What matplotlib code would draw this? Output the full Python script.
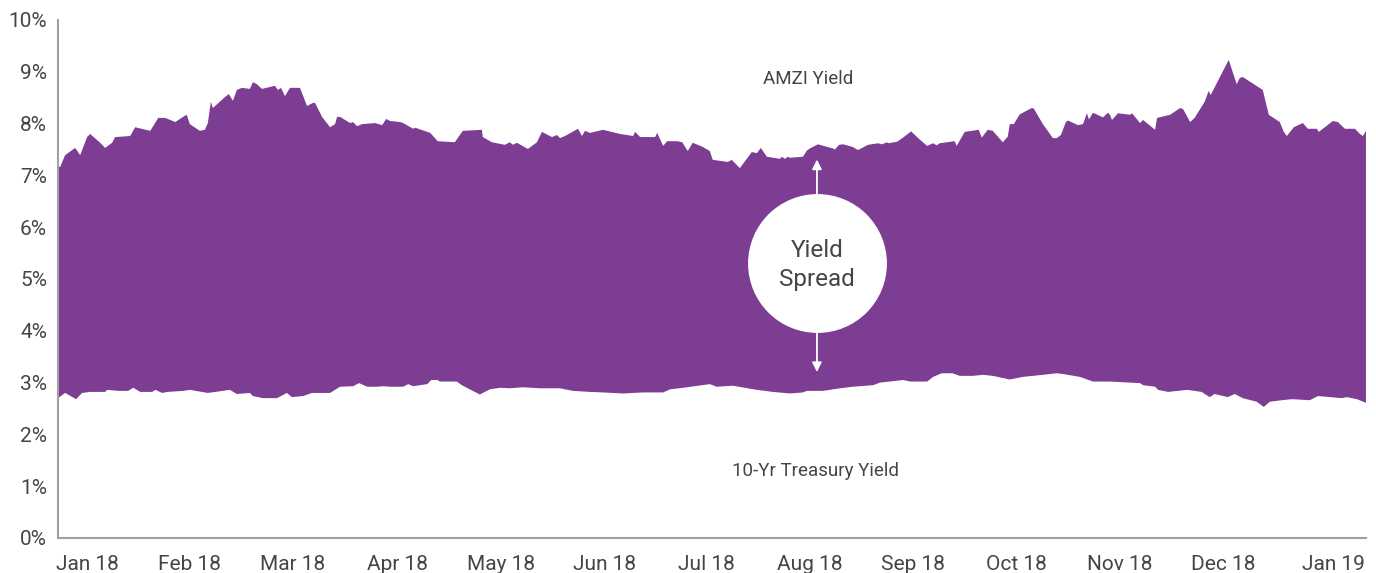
import matplotlib
matplotlib.use("Agg")
import matplotlib.pyplot as plt
import numpy as np

# trading-day index across the year, yields in percent
amzi_day = [0, 0.4, 1.4, 3.4, 4.0, 4.4, 5.8, 6.4, 8.4, 9.4, 10.8, 11.4, 14.4, 15.4, 18.4, 20.0,
            21.4, 23.4, 25.3, 25.7, 26.3, 28.3, 29.3, 29.9, 30.5, 30.9, 33.3, 34.1, 34.9, 35.7,
            36.7, 38.3, 38.9, 39.7, 40.7, 43.3, 43.9, 44.5, 45.3, 46.3, 48.3, 49.7, 50.9, 51.3,
            52.7, 54.3, 55.3, 55.7, 56.3, 58.3, 58.9, 59.7, 60.7, 63.3, 64.7, 65.5, 66.3,
            68.3, 68.9, 70.9, 71.3, 74.3, 75.8, 79.2, 80.8, 84.6, 84.8, 86.6, 89.2, 90.2, 90.8,
            91.6, 93.8, 95.6, 96.6, 98.6, 99.6, 100.2, 101.2, 103.8, 104.6, 105.2, 106.2, 108.8,
            112.2, 114.8, 115.2, 116.2, 119.2, 119.6, 120.8, 121.6, 123.6, 124.6, 125.7, 126.7,
            128.7, 130.1, 130.7, 133.7, 134.5, 136.1, 138.5, 139.5, 140.3, 141.5, 144.1, 144.5,
            145.1, 145.7, 146.1, 148.7, 149.5, 150.1, 151.7, 154.7, 155.1, 155.9, 156.7, 158.6,
            159.7, 161.7, 163.7, 164.5, 165.5, 165.7, 167.5, 168.7, 170.3, 171.7, 173.5, 174.7,
            175.4, 176.0, 179.0, 179.4, 181.0, 183.8, 184.4, 185.6, 186.6, 188.6, 189.6, 190.0,
            190.8, 192.0, 194.4, 194.8, 196.6, 198.6, 199.4, 200.2, 201.2, 201.6, 203.6, 204.6,
            205.4, 205.8, 206.6, 208.6, 209.6, 210.0, 210.4, 211.6, 214.0, 214.4, 216.0, 216.6,
            219.0, 219.4, 222.0, 224.0, 224.6, 226.0, 226.9, 228.9, 229.7, 230.1, 233.7, 235.3,
            235.9, 236.5, 240.5, 241.7, 243.9, 244.7, 245.3, 246.7, 248.5, 249.5, 251.3, 251.7,
            254.5, 255.5, 256.9, 258.9, 259.9, 260.5, 261.1]
amzi_yield = [7.18, 7.16, 7.39, 7.53, 7.45, 7.39, 7.74, 7.80, 7.63, 7.53, 7.63, 7.74, 7.76, 7.93, 7.86, 8.11,
              8.11, 8.03, 8.15, 8.17, 7.99, 7.86, 7.88, 8.01, 8.42, 8.30, 8.51, 8.57, 8.44, 8.65,
              8.69, 8.67, 8.80, 8.76, 8.67, 8.73, 8.65, 8.69, 8.53, 8.69, 8.69, 8.34, 8.40, 8.40,
              8.13, 7.93, 7.99, 8.13, 8.13, 8.01, 8.03, 7.95, 7.99, 8.01, 7.97, 8.09, 8.05,
              8.03, 8.01, 7.90, 7.92, 7.82, 7.66, 7.64, 7.86, 7.88, 7.74, 7.64, 7.59, 7.64, 7.59,
              7.63, 7.51, 7.64, 7.84, 7.74, 7.78, 7.72, 7.76, 7.90, 7.76, 7.86, 7.82, 7.88,
              7.80, 7.76, 7.84, 7.74, 7.74, 7.82, 7.57, 7.66, 7.66, 7.64, 7.47, 7.63,
              7.55, 7.47, 7.30, 7.26, 7.30, 7.14, 7.45, 7.43, 7.53, 7.36, 7.32, 7.36,
              7.32, 7.36, 7.34, 7.36, 7.48, 7.52, 7.60, 7.52, 7.50, 7.59, 7.60, 7.55,
              7.49, 7.59, 7.62, 7.60, 7.64, 7.62, 7.65, 7.73, 7.85, 7.72, 7.57, 7.62,
              7.58, 7.62, 7.66, 7.57, 7.84, 7.88, 7.73, 7.88, 7.86, 7.64, 7.75, 7.99,
              7.99, 8.18, 8.30, 8.29, 7.99, 7.72, 7.72, 7.78, 8.03, 8.06, 7.97, 7.99,
              8.20, 8.08, 8.21, 8.12, 8.21, 8.17, 8.07, 8.20, 8.17, 8.20, 8.01, 8.07,
              7.88, 8.11, 8.17, 8.30, 8.28, 8.03, 8.11, 8.42, 8.63, 8.55, 9.23, 8.76,
              8.88, 8.90, 8.65, 8.17, 8.03, 7.84, 7.76, 7.93, 8.01, 7.90, 7.90, 7.84,
              8.05, 8.03, 7.90, 7.90, 7.80, 7.76, 7.86]

tsy_day = [0, 1.4, 3.6, 4.8, 6.4, 9.4, 9.8, 12.0, 14.0, 15.0, 16.4, 18.8, 19.4, 20.8, 21.8, 25.0,
           26.3, 29.9, 34.3, 35.7, 38.3, 38.9, 40.9, 43.7, 45.7, 46.7, 48.9, 50.7, 54.3, 56.3,
           58.9, 60.1, 61.7, 63.7, 64.9, 66.3, 68.9, 69.9, 70.9, 73.7, 74.5, 75.8, 76.2, 79.6,
           80.6, 84.2, 85.2, 86.2, 88.2, 90.2, 92.8, 96.2, 100.2, 102.8, 106.2, 108.8, 112.8,
           116.8, 120.8, 122.2, 124.8, 130.1, 131.5, 134.7, 139.5, 142.7, 146.1, 148.7, 149.5,
           152.7, 156.1, 158.7, 162.7, 164.1, 168.7, 170.1, 173.5, 174.7, 176.4, 178.6, 180.0,
           182.6, 184.6, 186.6, 190.0, 192.6, 194.6, 196.6, 199.4, 201.0, 204.0, 206.6, 210.0,
           216.0, 216.6, 219.0, 219.6, 221.6, 225.4, 228.3, 229.9, 230.9, 233.5, 234.9, 236.5,
           239.3, 240.7, 241.9, 244.3, 246.3, 249.9, 251.5, 253.9, 256.3, 257.3, 259.3, 261.1]
tsy_yield = [2.70, 2.80, 2.68, 2.80, 2.82, 2.82, 2.86, 2.84, 2.84, 2.90, 2.82, 2.82, 2.86, 2.80, 2.82, 2.84,
             2.86, 2.80, 2.86, 2.78, 2.80, 2.74, 2.70, 2.70, 2.80, 2.72, 2.74, 2.80, 2.80, 2.92,
             2.93, 2.99, 2.92, 2.92, 2.93, 2.92, 2.92, 2.97, 2.93, 2.97, 3.05, 3.05, 3.02, 3.02,
             2.95, 2.77, 2.82, 2.87, 2.90, 2.89, 2.91, 2.89, 2.89, 2.84, 2.82, 2.81, 2.79,
             2.81, 2.81, 2.87, 2.90, 2.97, 2.92, 2.94, 2.86, 2.82, 2.79, 2.81, 2.84,
             2.84, 2.89, 2.92, 2.95, 3.00, 3.05, 3.02, 3.02, 3.11, 3.18, 3.18, 3.13,
             3.13, 3.15, 3.13, 3.06, 3.11, 3.13, 3.15, 3.18, 3.16, 3.11, 3.02, 3.02,
             2.99, 2.95, 2.92, 2.86, 2.82, 2.86, 2.82, 2.72, 2.78, 2.72, 2.78, 2.70,
             2.63, 2.53, 2.63, 2.66, 2.68, 2.66, 2.74, 2.72, 2.70, 2.72, 2.68, 2.61]

month_pos = [5.8, 26.3, 46.9, 67.7, 88.4, 109.0, 129.5, 150.1, 170.7, 191.4, 212.0, 232.5, 254.7]
month_labels = ["Jan 18", "Feb 18", "Mar 18", "Apr 18", "May 18", "Jun 18", "Jul 18",
                "Aug 18", "Sep 18", "Oct 18", "Nov 18", "Dec 18", "Jan 19"]

purple = "#7c3d93"
text_col = "#454545"
plt.rcParams["font.family"] = ["Roboto", "DejaVu Sans"]

fig = plt.figure(figsize=(13.76, 5.73), dpi=100)
ax = fig.add_axes([0.0422, 0.0611, 0.9505, 0.904])

# spread area: AMZI line on top, treasury line back underneath
poly_x = np.r_[amzi_day, tsy_day[::-1]]
poly_y = np.r_[amzi_yield, tsy_yield[::-1]]
ax.fill(poly_x, poly_y, color=purple, lw=0)

ax.set_xlim(0, 261.1)
ax.set_ylim(0, 10)
ax.set_yticks(range(0, 11))
ax.set_yticklabels([f"{v}%" for v in range(0, 11)])
ax.set_xticks(month_pos)
ax.set_xticklabels(month_labels)
ax.tick_params(length=0, labelsize=15, labelcolor=text_col)
ax.tick_params(axis="y", pad=8)
ax.tick_params(axis="x", pad=12.5)

for s in ["top", "right"]:
    ax.spines[s].set_visible(False)
for s in ["left", "bottom"]:
    ax.spines[s].set_color("#a0a0a0")
    ax.spines[s].set_linewidth(1.5)

ax.text(149.7, 8.86, "AMZI Yield", ha="center", va="center", fontsize=13.5,
        color=text_col)
ax.text(151.3, 1.29, "10-Yr Treasury Yield", ha="center", va="center", fontsize=13.5,
        color=text_col)

# circle + arrows
cx, cy = 151.5, 5.31
ax.annotate("", xy=(cx, 7.36), xytext=(cx, 6.4),
            arrowprops=dict(arrowstyle="-|>", color="white", lw=1.3, mutation_scale=14))
ax.annotate("", xy=(cx, 3.15), xytext=(cx, 4.2),
            arrowprops=dict(arrowstyle="-|>", color="white", lw=1.3, mutation_scale=14))
ax.plot([cx], [cy], marker="o", markersize=100, color="white", markeredgewidth=0, zorder=3)
ax.text(cx, cy - 0.04, "Yield\nSpread", ha="center", va="center", fontsize=17.5,
        color=text_col, linespacing=1.3, zorder=4)

fig.savefig("out.png", dpi=100)
